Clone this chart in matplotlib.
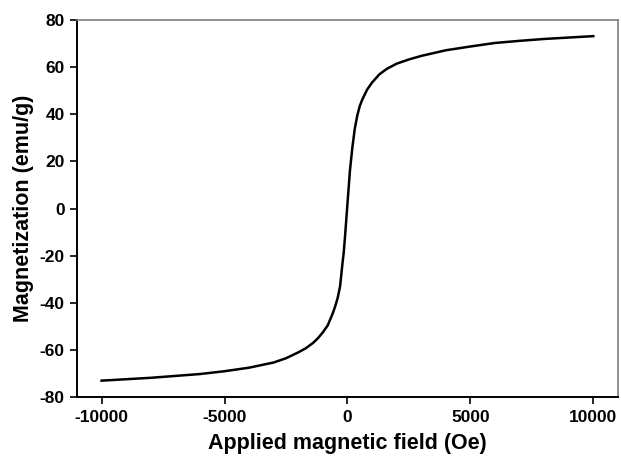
import matplotlib
matplotlib.use("Agg")
import matplotlib.pyplot as plt

# Magnetization curve: applied field (Oe) and magnetization (emu/g)
field_oe = [-10000, -9000, -8000, -7000, -6000, -5000, -4000, -3000, -2500, -2000,
            -1700, -1400, -1200, -1000, -800, -600, -500, -400, -300, -200,
            -150, -100, -50, 0, 50, 100, 150, 200, 300, 400,
            500, 600, 800, 1000, 1300, 1600, 2000, 2500, 3000, 4000,
            5000, 6000, 7000, 8000, 9000, 10000]
magnetization = [-73.0, -72.4, -71.8, -71.0, -70.2, -69.0, -67.5, -65.3, -63.5, -61.0,
                 -59.3, -57.0, -55.0, -52.5, -49.5, -44.5, -41.5, -38.0, -33.0, -23.0,
                 -18.5, -12.0, -5.0, 2.0, 9.0, 16.0, 21.0, 26.0, 34.0, 39.5,
                 43.5, 46.2, 50.5, 53.5, 57.0, 59.3, 61.5, 63.3, 64.8, 67.2,
                 68.8, 70.3, 71.2, 72.0, 72.6, 73.2]

x_ticks = [-10000, -5000, 0, 5000, 10000]
y_ticks = [-80, -60, -40, -20, 0, 20, 40, 60, 80]

plt.rcParams['font.family'] = ['Liberation Sans', 'DejaVu Sans']

fig = plt.figure(figsize=(6.21, 4.57), dpi=100)
ax = fig.add_axes([0.124, 0.131, 0.871, 0.825])

ax.plot(field_oe, magnetization, color='black', lw=1.8, solid_joinstyle='round')

ax.set_xlim(-11000, 11000)
ax.set_ylim(-80, 80)
ax.set_xticks(x_ticks)
ax.set_yticks(y_ticks)
ax.set_xticklabels([str(v) for v in x_ticks], fontsize=12.5, fontweight='bold')
ax.set_yticklabels([str(v) for v in y_ticks], fontsize=12.5, fontweight='bold')
ax.tick_params(direction='out', length=5, width=1.2, color='black', pad=4)

for side in ('left', 'bottom'):
    ax.spines[side].set_color('black')
    ax.spines[side].set_linewidth(1.4)
for side in ('top', 'right'):
    ax.spines[side].set_color('#7f7f7f')
    ax.spines[side].set_linewidth(1.2)

ax.set_xlabel('Applied magnetic field (Oe)', fontsize=15.5, fontweight='bold', labelpad=6)
ax.set_ylabel('Magnetization (emu/g)', fontsize=15.5, fontweight='bold', labelpad=4)

fig.savefig('out.png', dpi=100)
